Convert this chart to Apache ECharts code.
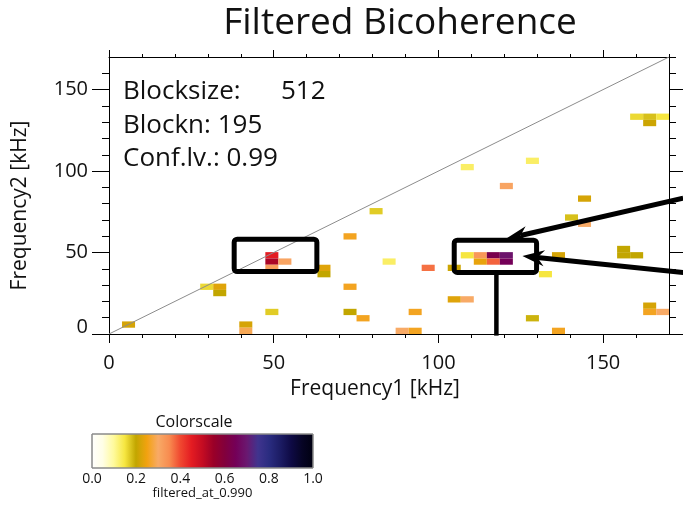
<!DOCTYPE html>
<html>
<head>
<meta charset="utf-8">
<script src="https://cdn.jsdelivr.net/npm/echarts@6/dist/echarts.min.js"></script>
<style>
  html, body { margin: 0; padding: 0; background: #fff; }
  #chart { width: 683px; height: 507px; }
</style>
</head>
<body>
<div id="chart"></div>
<script>
// Significant bicoherence cells (bins above the 0.99 confidence level)
const f1Bins = [1,7,8,8,10,10,12,12,12,12,13,16,16,18,18,18,19,20,21,22,23,23,24,26,26,27,27,27,28,28,29,29,30,30,30,32,32,33,34,34,35,36,36,39,39,40,40,41,42,41,41,41,42];
const f2Bins = [1,7,7,6,1,0,3,12,11,10,11,10,9,15,7,3,2,19,11,0,0,3,10,10,5,5,12,26,12,11,12,11,12,11,23,27,2,9,12,0,18,17,21,13,12,12,34,34,34,33,4,3,3];
const bicoherence = [0.22,0.16,0.23,0.20,0.22,0.29,0.17,0.45,0.53,0.32,0.31,0.23,0.20,0.26,0.26,0.20,0.26,0.17,0.13,0.30,0.26,0.26,0.37,0.21,0.23,0.30,0.15,0.13,0.33,0.24,0.63,0.38,0.69,0.65,0.31,0.13,0.19,0.15,0.22,0.26,0.18,0.30,0.22,0.20,0.20,0.20,0.16,0.18,0.15,0.21,0.22,0.26,0.30];

// Bin widths in kHz along each frequency axis
const BIN_F1 = 3.955;
const BIN_F2 = 3.865;

const freqRange = [0, 170];
const majorTicks = [0, 50, 100, 150];
const colorbarTicks = [0, 0.2, 0.4, 0.6, 0.8, 1.0];

// Colour table, evenly spaced from 0.0 to 1.0
const colorScale = [
  '#ffffff', '#fffee6', '#fffa9c', '#f6e640', '#c2a600', '#f2a210', '#f8aa66',
  '#f88c50', '#f04830', '#e41c22', '#c40c22', '#9a0028', '#82003c', '#740058',
  '#6a1870', '#40348e', '#2a2c80', '#1c1c64', '#0e0a44', '#060424', '#000010'
];

const infoLines = [
  { label: 'Blocksize:', value: '512' },
  { label: 'Blockn: 195' },
  { label: 'Conf.lv.: 0.99' }
];

// Annotation geometry in data coordinates (kHz)
const boxes = [
  [[38.0, 38.3], [63.1, 58.2]],
  [[104.8, 37.8], [129.8, 57.6]]
];
const stemLine = [[117.6, 37.8], [117.6, -1.0]];
const arrows = [
  [[174.3, 83.3], [120.5, 58.4]],
  [[174.3, 37.8], [125.5, 47.9]]
];

const FONT = 'Open Sans';

const cells = f1Bins.map((b, k) => [b * BIN_F1, f2Bins[k] * BIN_F2, bicoherence[k]]);

const chart = echarts.init(document.getElementById('chart'), null, { renderer: 'canvas' });

function axisPair(kind, position, minorLen, majorLen, withLabels, name) {
  const minor = {
    type: 'value', gridIndex: 0, position: position,
    min: freqRange[0], max: freqRange[1], interval: 10,
    axisLine: { show: true, onZero: false, lineStyle: { color: '#000', width: 1 } },
    axisTick: { show: true, inside: false, length: minorLen, lineStyle: { color: '#000', width: 1 } },
    splitLine: { show: false },
    axisLabel: { show: false }
  };
  if (withLabels) {
    minor.axisLabel = {
      show: true, fontFamily: FONT, fontSize: 20, color: '#111',
      margin: kind === 'x' ? 19 : 21,
      showMaxLabel: false,
      formatter: function (v) {
        if (majorTicks.indexOf(v) < 0) return '';
        if (kind === 'y' && v === 0) return '{z|0}';
        return String(v);
      },
      rich: { z: { fontFamily: FONT, fontSize: 20, color: '#111', padding: [0, 0, 14, 0] } }
    };
    minor.name = name;
    minor.nameLocation = 'middle';
    minor.nameTextStyle = kind === 'x'
      ? { fontFamily: FONT, fontSize: 21, color: '#111', padding: [0, 28, 0, 0] }
      : { fontFamily: FONT, fontSize: 21, color: '#111', padding: [0, 20, 0, 0] };
    minor.nameGap = kind === 'x' ? 45 : 78;
  }
  const major = {
    type: 'value', gridIndex: 0, position: position,
    min: freqRange[0], max: freqRange[1],
    axisLine: { show: false, onZero: false },
    axisTick: { show: true, inside: false, length: majorLen, customValues: majorTicks,
                lineStyle: { color: '#000', width: 1 } },
    axisLabel: { show: false },
    splitLine: { show: false }
  };
  return [minor, major];
}

const xAxes = [
  ...axisPair('x', 'bottom', 4, 9, true, 'Frequency1 [kHz]'),
  ...axisPair('x', 'top', 3, 7, false),
  {
    type: 'value', gridIndex: 1, min: 0, max: 1, interval: 0.2,
    axisLine: { show: false }, axisTick: { show: false }, splitLine: { show: false },
    axisLabel: { fontFamily: FONT, fontSize: 14, color: '#111', margin: 4,
                 formatter: v => v.toFixed(1) },
    name: 'filtered_at_0.990', nameLocation: 'middle', nameGap: 11,
    nameTextStyle: { fontFamily: FONT, fontSize: 13, color: '#111' }
  }
];
const yAxes = [
  ...axisPair('y', 'left', 7, 17, true, 'Frequency2 [kHz]'),
  ...axisPair('y', 'right', 7, 17, false),
  { type: 'value', gridIndex: 1, min: 0, max: 1, show: false }
];

chart.setOption({
  animation: false,
  backgroundColor: '#fff',
  grid: [
    { left: 109, right: 14, top: 57, bottom: 173 },
    { left: 92, top: 434, width: 221, height: 34 }
  ],
  xAxis: xAxes,
  yAxis: yAxes,
  visualMap: {
    type: 'continuous', show: false, min: 0, max: 1, dimension: 2, seriesIndex: 0,
    inRange: { color: colorScale }
  },
  series: [
    {
      type: 'custom', name: 'bicoherence', xAxisIndex: 0, yAxisIndex: 0,
      clip: true,
      data: cells,
      encode: { x: 0, y: 1 },
      renderItem: function (params, api) {
        const f1 = api.value(0), f2 = api.value(1);
        const p0 = api.coord([f1, f2]);
        const p1 = api.coord([f1 + BIN_F1, f2 + BIN_F2]);
        return {
          type: 'rect',
          shape: { x: p0[0], y: p1[1], width: p1[0] - p0[0], height: p0[1] - p1[1] },
          style: { fill: api.visual('color') }
        };
      }
    },
    {
      type: 'line', name: 'diagonal', xAxisIndex: 0, yAxisIndex: 0,
      data: [[freqRange[0], freqRange[0]], [freqRange[1], freqRange[1]]],
      symbol: 'none', silent: true,
      lineStyle: { color: '#8c8c8c', width: 1 }, z: 3
    },
    {
      type: 'custom', name: 'colorbar', xAxisIndex: 4, yAxisIndex: 4,
      data: [[0, 0]],
      renderItem: function (params, api) {
        const a = api.coord([0, 0]);
        const b = api.coord([1, 1]);
        const stops = colorScale.map((c, k) => ({ offset: k / (colorScale.length - 1), color: c }));
        return {
          type: 'rect',
          shape: { x: a[0], y: b[1], width: b[0] - a[0], height: a[1] - b[1] },
          style: { fill: new echarts.graphic.LinearGradient(0, 0, 1, 0, stops),
                   stroke: '#8a8a8a', lineWidth: 1 }
        };
      }
    }
  ]
});

// Title, info block and annotations
const toPx = p => chart.convertToPixel({ seriesIndex: 0 }, p);
const graphics = [];

graphics.push({
  type: 'text', x: 400, y: 23, z: 100,
  style: { text: 'Filtered Bicoherence', fontFamily: FONT, fontSize: 37, fill: '#111',
           textAlign: 'center', textVerticalAlign: 'middle' }
});
graphics.push({
  type: 'text', x: 194, y: 422, z: 100,
  style: { text: 'Colorscale', fontFamily: FONT, fontSize: 16, fill: '#111',
           textAlign: 'center', textVerticalAlign: 'middle' }
});
infoLines.forEach((line, k) => {
  const y = 92 + k * 33.3;
  graphics.push({
    type: 'text', x: 123, y: y, z: 100,
    style: { text: line.label, fontFamily: FONT, fontSize: 26, fill: '#111',
             textAlign: 'left', textVerticalAlign: 'middle' }
  });
  if (line.value) {
    graphics.push({
      type: 'text', x: 281, y: y, z: 100,
      style: { text: line.value, fontFamily: FONT, fontSize: 26, fill: '#111',
               textAlign: 'left', textVerticalAlign: 'middle' }
    });
  }
});

boxes.forEach(b => {
  const p0 = toPx(b[0]), p1 = toPx(b[1]);
  graphics.push({
    type: 'rect', z: 100,
    shape: { x: Math.min(p0[0], p1[0]), y: Math.min(p0[1], p1[1]),
             width: Math.abs(p1[0] - p0[0]), height: Math.abs(p1[1] - p0[1]), r: 3 },
    style: { fill: 'none', stroke: '#000', lineWidth: 5 }
  });
});

(function () {
  const a = toPx(stemLine[0]), b = toPx(stemLine[1]);
  graphics.push({
    type: 'line', z: 100,
    shape: { x1: a[0], y1: a[1] + 2, x2: b[0], y2: b[1] },
    style: { stroke: '#000', lineWidth: 4.5 }
  });
})();

arrows.forEach(ar => {
  const s = toPx(ar[0]), t = toPx(ar[1]);
  const dx = t[0] - s[0], dy = t[1] - s[1];
  const len = Math.hypot(dx, dy);
  const ux = dx / len, uy = dy / len;
  const nx = -uy, ny = ux;
  const L = 22, W = 8, notch = 15;
  const back = [t[0] - ux * L, t[1] - uy * L];
  const mid = [t[0] - ux * notch, t[1] - uy * notch];
  graphics.push({
    type: 'line', z: 100,
    shape: { x1: s[0], y1: s[1], x2: mid[0], y2: mid[1] },
    style: { stroke: '#000', lineWidth: 5 }
  });
  graphics.push({
    type: 'polygon', z: 101,
    shape: { points: [t, [back[0] + nx * W, back[1] + ny * W], mid, [back[0] - nx * W, back[1] - ny * W]] },
    style: { fill: '#000' }
  });
});

chart.setOption({ graphic: graphics });
</script>
</body>
</html>
